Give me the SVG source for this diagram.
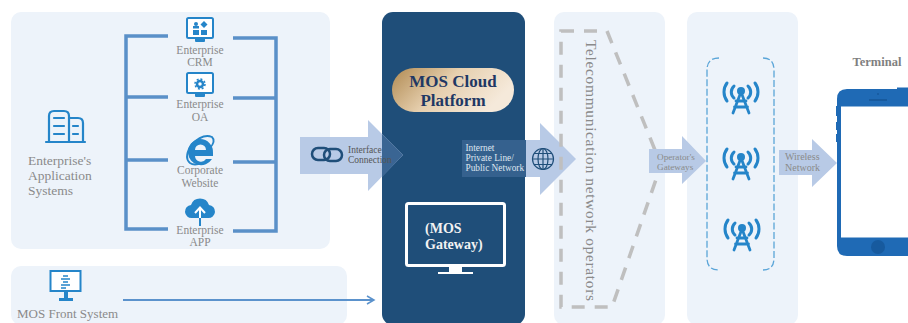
<svg xmlns="http://www.w3.org/2000/svg" width="908" height="323" viewBox="0 0 908 323">
<style>
text{font-family:"Liberation Serif","DejaVu Serif",serif}
.panel{fill:#edf3fa}
.lbl{fill:#8a8a8a;font-size:11.500px;text-anchor:middle}
.arrow{fill:#b8cae6}
.brk{fill:none;stroke:#5a90c8;stroke-width:3.5}
.ic{fill:#2585c9}
</style>
<defs>
<linearGradient id="gold" x1="0" y1="0" x2="1" y2="0.35"><stop offset="0" stop-color="#b08a52"/><stop offset="0.5" stop-color="#e6cfae"/><stop offset="1" stop-color="#f5e9da"/></linearGradient>
<marker id="open" markerWidth="10" markerHeight="10" refX="8" refY="5" orient="auto" markerUnits="userSpaceOnUse"><path d="M1,1 L8,5 L1,9" fill="none" stroke="#5b92cc" stroke-width="1.5"/></marker>
<g id="tower">
<circle cx="0" cy="-7" r="4" class="ic"/>
<path d="M0,-6 L-8,15 M0,-6 L8,15 M-5,3 H5 M-6.500,9 H6.500" fill="none" stroke="#2585c9" stroke-width="2.800" stroke-linecap="round"/>
<path d="M-7,-12 A8,8 0 0 0 -7,0 M7,-12 A8,8 0 0 1 7,0 M-14,-15 A15,15 0 0 0 -14,3 M14,-15 A15,15 0 0 1 14,3" fill="none" stroke="#2585c9" stroke-width="3" stroke-linecap="round"/>
</g>
<g id="monitor">
<rect x="1" y="1" width="26" height="20" rx="1.500" fill="#fff" stroke="#2585c9" stroke-width="2"/>
<path d="M9,21 H19 V24 Q19,25 18,25 H10 Q9,25 9,24 Z" class="ic"/>
</g>
</defs>

<g id="panel-enterprise"><rect class="panel" x="11" y="12" width="319" height="237" rx="10"/></g>
<g id="panel-front"><rect class="panel" x="11" y="266" width="336" height="59" rx="10"/></g>
<g id="panel-operators"><rect class="panel" x="554" y="12" width="111" height="313" rx="10"/></g>
<g id="panel-radio"><rect class="panel" x="687" y="12" width="111" height="313" rx="10"/></g>
<g id="panel-mos"><rect x="382" y="12" width="143" height="313" rx="11" fill="#1f4e79"/></g>

<g id="connectors">
<path class="brk" d="M168,36 H126 V229 H168 M126,97 H168 M126,160 H168"/>
<path class="brk" d="M233,38 H276 V231 H233 M276,98 H233 M276,162 H233"/>
<line x1="123" y1="300" x2="374" y2="300" stroke="#5b92cc" stroke-width="2" marker-end="url(#open)"/>
<path class="arrow" d="M300,137 H368 V120 L403,155 L368,191 V174 H300 Z"/>
<path d="M382,134 L403,155 L382,177 Z" fill="#3a6593"/>
<path class="arrow" d="M526,140 H540 V123 L576,159 L540,195 V177 H526 Z"/>
<rect x="462" y="140" width="64" height="37" fill="#35618e"/>
<path d="M561,31 H607 L661,165 L612,307 H561 Z" fill="none" stroke="#bfbfbf" stroke-width="3.500" stroke-dasharray="13 10"/>
<path class="arrow" d="M649,149 H682 V136 L706,161 L682,184 V173 H649 Z"/>
<path class="arrow" d="M779,150 H812 V139 L837,163 L812,187 V175 H779 Z"/>
</g>

<g id="enterprise-systems">
<g fill="none" stroke="#2585c9" stroke-width="2.200" stroke-linecap="round">
<path d="M46,142 H85 M49,142 V116 Q49,111 54,111 H64 Q69,111 69,116 V142 M69,118 H78 Q83,118 83,123 V142"/>
<path d="M54,118 H64 M54,126 H64 M54,134 H64 M73,126 H78 M73,134 H78"/>
</g>
<text x="28" y="165" fill="#8a8a8a" font-size="13.500">Enterprise's</text>
<text x="28" y="180" fill="#8a8a8a" font-size="13.500">Application</text>
<text x="28" y="195" fill="#8a8a8a" font-size="13.500">Systems</text>
</g>

<g id="crm">
<use href="#monitor" x="186" y="17"/>
<rect x="193" y="30" width="6" height="5" class="ic"/><rect x="201" y="30" width="6" height="5" class="ic"/>
<circle cx="196" cy="24" r="2" class="ic"/><rect x="193" y="26" width="6" height="2.500" class="ic"/>
<path d="M204,21 L207.500,24.500 L204,28 L200.500,24.500 Z" class="ic"/>
<text class="lbl" x="200" y="54">Enterprise</text><text class="lbl" x="200" y="66">CRM</text>
</g>
<g id="oa">
<use href="#monitor" x="186" y="72"/>
<circle cx="200" cy="84" r="3" fill="none" stroke="#2585c9" stroke-width="2.500"/>
<circle cx="200" cy="84" r="5" fill="none" stroke="#2585c9" stroke-width="1.500" stroke-dasharray="2 1.900"/>
<text class="lbl" x="200" y="108">Enterprise</text><text class="lbl" x="200" y="121">OA</text>
</g>
<g id="website">
<path d="M200,139 A13,13 0 0 1 213,153 L213,156 H195 A6,6 0 0 0 206,159 H212 A13,13 0 0 1 188,153 A13,13 0 0 1 200,139 Z M195,150 H206 A5.500,5.500 0 0 0 195,150 Z" class="ic" fill-rule="evenodd"/>
<path d="M191,145 Q203,133 212,137 Q216,141 210,148 M190,147 Q184,158 190,163 Q194,166 202,163" fill="none" stroke="#2585c9" stroke-width="1.800"/>
<text class="lbl" x="200" y="174">Corporate</text><text class="lbl" x="200" y="187">Website</text>
</g>
<g id="app">
<path d="M192,218 A6.500,6.500 0 0 1 191,205 A9.500,9.500 0 0 1 209,205 A6.500,6.500 0 0 1 208,218 Z" class="ic"/>
<path d="M200,218 V208 M195,213 L200,207.500 L205,213" fill="none" stroke="#fff" stroke-width="2"/>
<line x1="200" y1="218" x2="200" y2="226" stroke="#2585c9" stroke-width="2"/>
<text class="lbl" x="200" y="234">Enterprise</text><text class="lbl" x="200" y="246">APP</text>
</g>

<g id="mos-front">
<rect x="50.500" y="271" width="30" height="20" fill="#fff" stroke="#2585c9" stroke-width="2"/>
<path d="M63,276 H68 M61,279 H70 M63,282 H68 M61,285 H70 M61,288 H66" stroke="#2585c9" stroke-width="1.600" fill="none"/>
<path d="M64,291 H68 V298 H73 V301 H59 V298 H64 Z" class="ic"/>
<text x="17" y="318" fill="#8a8a8a" font-size="13">MOS Front System</text>
</g>

<g id="interface-connection">
<g fill="none" stroke="#1f4e79" stroke-width="2.500"><rect x="312" y="148" width="18" height="12" rx="6"/><rect x="324" y="149" width="18" height="12" rx="6"/></g>
<text x="348" y="153" font-size="9.500" fill="#555">Interface</text>
<text x="348" y="163" font-size="9.500" fill="#555">Connection</text>
</g>

<g id="mos-cloud">
<rect x="392" y="68" width="122" height="44" rx="22" fill="url(#gold)"/>
<text x="453" y="87" font-size="17" font-weight="bold" fill="#1f3864" text-anchor="middle">MOS Cloud</text>
<text x="453" y="106" font-size="17" font-weight="bold" fill="#1f3864" text-anchor="middle">Platform</text>
</g>

<g id="mos-gateway">
<rect x="406.500" y="203.500" width="98" height="62" rx="2" fill="none" stroke="#fff" stroke-width="3"/>
<rect x="449" y="266" width="13" height="6" fill="#fff"/><rect x="438" y="272" width="35" height="2" fill="#fff"/>
<text x="425" y="233" font-size="14" font-weight="bold" fill="#f2f2f2">(MOS</text>
<text x="425" y="249" font-size="14" font-weight="bold" fill="#f2f2f2">Gateway)</text>
</g>

<g id="internet">
<text x="465.500" y="151" font-size="9.300" fill="#dfe6f0">Internet</text>
<text x="465.500" y="161" font-size="9.300" fill="#dfe6f0">Private Line/</text>
<text x="465.500" y="171" font-size="9.300" fill="#dfe6f0">Public Network</text>
<g fill="none" stroke="#1f4e79" stroke-width="1.200">
<circle cx="543" cy="159" r="10.500"/><ellipse cx="543" cy="159" rx="5" ry="10.500"/><path d="M543,148.500 V169.500 M532.500,159 H553.500 M534,153.500 H552 M534,164.500 H552"/>
</g>
</g>

<g id="telecom">
<text transform="translate(586,40) rotate(90)" font-size="15.500" fill="#8a8a8a" textLength="261">Telecommunication network operators</text>
</g>
<g id="operator-gateways">
<text x="657" y="160" font-size="9.200" fill="#8a8a8a">Operator's</text>
<text x="657" y="170" font-size="9.200" fill="#8a8a8a">Gateways</text>
</g>

<g id="base-stations">
<path d="M719,58 Q707,58 707,70 V258 Q707,270 719,270 M763,58 Q774,58 774,70 V258 Q774,270 763,270" fill="none" stroke="#5aa5d8" stroke-width="1.300" stroke-dasharray="7 2.500"/>
<use href="#tower" x="741" y="98"/>
<use href="#tower" x="741" y="164"/>
<use href="#tower" x="742" y="235"/>
</g>
<g id="wireless">
<text x="785" y="160" font-size="10" fill="#8a8a8a">Wireless</text>
<text x="785" y="171" font-size="10" fill="#8a8a8a">Network</text>
</g>

<g id="terminal">
<text x="877" y="66" font-size="12.500" font-weight="bold" fill="#7f7f7f" text-anchor="middle">Terminal</text>
<path d="M847,89 H897 V87.500 H908 V256 H847 Q837,256 837,246 V99 Q837,89 847,89 Z" fill="#1f6ab5"/>
<rect x="836" y="106" width="2" height="10" fill="#1f6ab5"/><rect x="836" y="122" width="2" height="8" fill="#1f6ab5"/><rect x="836" y="134" width="2" height="8" fill="#1f6ab5"/>
<rect x="841" y="106.500" width="67" height="131" fill="#fff"/>
<circle cx="878" cy="94" r="1" fill="#175a9e"/>
<rect x="869" y="99" width="18" height="2" fill="#175a9e"/>
<circle cx="878" cy="247" r="7" fill="#175a9e"/>
</g>
</svg>
